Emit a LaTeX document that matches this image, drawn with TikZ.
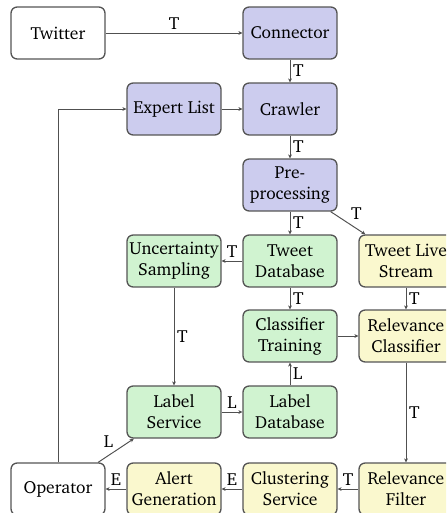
\documentclass[tikz,border=0pt]{standalone}
\usepackage[T1]{fontenc}
\usepackage{charter}
\usetikzlibrary{arrows.meta}
\definecolor{bluefill}{RGB}{204,204,238}
\definecolor{greenfill}{RGB}{208,243,208}
\definecolor{yellowfill}{RGB}{250,248,206}
\definecolor{bordergray}{RGB}{85,85,85}
\definecolor{linegray}{RGB}{80,80,80}
\begin{document}
\begin{tikzpicture}[x=0.5714pt,y=-0.5714pt,
  box/.style={draw=bordergray, line width=0.75pt, rounded corners=3.5pt,
    minimum width=53.7pt, minimum height=29.7pt, align=center, inner sep=1pt,
    font=\fontsize{10}{12}\selectfont},
  wbox/.style={box, fill=white},
  bbox/.style={box, fill=bluefill},
  gbox/.style={box, fill=greenfill},
  ybox/.style={box, fill=yellowfill},
  conn/.style={draw=linegray, line width=0.55pt, -{Stealth[length=2.3pt,width=2.2pt]}},
  lab/.style={inner sep=1.5pt, font=\fontsize{10}{12}\selectfont}]
\fill[white] (0,0) rectangle (446,513);
\useasboundingbox (0,0) rectangle (446,513);
\clip (0,0) rectangle (446,513);
% row 1
\node[wbox] (tw) at (58,33) {Twitter};
\node[bbox] (con) at (290,33) {Connector};
% row 2
\node[bbox] (el) at (174,109) {Expert List};
\node[bbox] (cr) at (290,109) {Crawler};
% row 3
\node[bbox] (pre) at (290,185) {Pre-\\processing};
% row 4
\node[gbox] (us) at (174,261) {Uncertainty\\Sampling};
\node[gbox] (tdb) at (290,261) {Tweet\\Database};
\node[ybox] (tls) at (406,261) {Tweet Live\\Stream};
% row 5
\node[gbox] (ct) at (290,336) {Classifier\\Training};
\node[ybox] (rc) at (406,336) {Relevance\\Classifier};
% row 6
\node[gbox] (ls) at (174,412) {Label\\Service};
\node[gbox] (ldb) at (290,412) {Label\\Database};
% row 7
\node[wbox] (op) at (58,489) {Operator};
\node[ybox] (ag) at (174,489) {Alert\\Generation};
\node[ybox] (cs) at (290,489) {Clustering\\Service};
\node[ybox] (rf) at (406,489) {Relevance\\Filter};
% connectors
\draw[conn] (tw) -- node[lab, above] {T} (con);
\draw[conn] (con) -- node[lab, right] {T} (cr);
\draw[conn] (el) -- (cr);
\draw[conn] (cr) -- node[lab, right] {T} (pre);
\draw[conn] (pre) -- node[lab, right] {T} (tdb);
\draw[conn] (pre) -- node[lab, above right] {T} (tls);
\draw[conn] (tdb) -- node[lab, above] {T} (us);
\draw[conn] (tdb) -- node[lab, right] {T} (ct);
\draw[conn] (tls) -- node[lab, right] {T} (rc);
\draw[conn] (ct) -- (rc);
\draw[conn] (us) -- node[lab, right] {T} (ls);
\draw[conn] (ldb) -- node[lab, right] {L} (ct);
\draw[conn] (ls) -- node[lab, above] {L} (ldb);
\draw[conn] (rc) -- node[lab, right] {T} (rf);
\draw[conn] (rf) -- node[lab, above] {T} (cs);
\draw[conn] (cs) -- node[lab, above] {E} (ag);
\draw[conn] (ag) -- node[lab, above] {E} (op);
\draw[conn] (op) -- node[lab, above left] {L} (ls);
\draw[conn] (op.north) |- (el.west);
\end{tikzpicture}
\end{document}
